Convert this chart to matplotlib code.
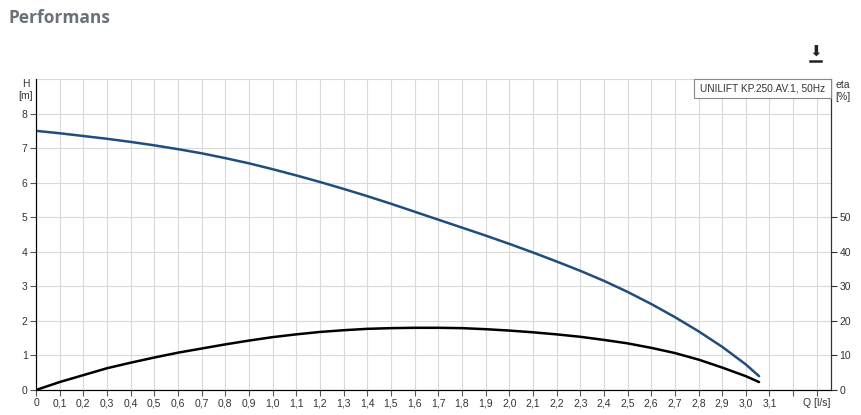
import matplotlib.pyplot as plt
from matplotlib.lines import Line2D
from matplotlib.patches import Rectangle

# Pump curve data
q_head = [0.0, 0.1, 0.2, 0.3, 0.4, 0.5, 0.6, 0.7, 0.8, 0.9, 1.0, 1.1, 1.2, 1.3, 1.4, 1.5,
          1.6, 1.7, 1.8, 1.9, 2.0, 2.1, 2.2, 2.3, 2.4, 2.5, 2.6, 2.7, 2.8, 2.9, 3.0, 3.056]
head = [7.50, 7.43, 7.35, 7.27, 7.18, 7.08, 6.97, 6.85, 6.71, 6.56, 6.39, 6.21, 6.02, 5.82, 5.61, 5.39,
        5.16, 4.93, 4.70, 4.47, 4.23, 3.98, 3.72, 3.45, 3.16, 2.84, 2.49, 2.11, 1.70, 1.25, 0.74, 0.40]

q_eta = q_head
eta = [0.0, 2.3, 4.3, 6.3, 7.9, 9.4, 10.8, 12.0, 13.2, 14.3, 15.3, 16.1, 16.8, 17.3, 17.7, 17.9,
       18.0, 18.0, 17.9, 17.6, 17.2, 16.7, 16.1, 15.4, 14.5, 13.5, 12.2, 10.7, 8.8, 6.5, 4.0, 2.3]

x_ticks = [i / 10 for i in range(34)]
x_labels = [f"{v:.1f}".replace(".", ",") if v < 3.15 else "" for v in x_ticks]
x_labels[0] = "0"
x_labels[33] = "Q [l/s]"
h_ticks = list(range(0, 9))
eta_ticks = [0, 10, 20, 30, 40, 50]
legend_label = "UNILIFT KP.250.AV.1, 50Hz"

plt.rcParams['font.family'] = ['Liberation Sans', 'DejaVu Sans']

fig = plt.figure(figsize=(8.61, 4.15), dpi=100)
ax = fig.add_axes([36 / 861, 1 - 390 / 415, 795 / 861, 311 / 415])

ax.set_xlim(0, 3.36)
ax.set_ylim(0, 9)
ax.set_xticks(x_ticks)
ax.set_xticklabels(x_labels, fontsize=7.5, color="#333333")
ax.set_yticks(h_ticks)
ax.set_yticklabels([str(t) for t in h_ticks], fontsize=7.5, color="#333333")
ax.grid(True, color="#d9d9d9", linewidth=0.8)
ax.tick_params(length=4, width=0.8, color="#555555", pad=2)
for s in ["left", "bottom"]:
    ax.spines[s].set_color("#444444")
ax.spines["top"].set_color("#d9d9d9")
ax.spines["right"].set_color("#333333")

ax.plot(q_head, head, color="#1f4e7d", linewidth=1.8, solid_capstyle="round")

ax2 = ax.twinx()
ax2.set_ylim(0, 90)
ax2.set_yticks(eta_ticks)
ax2.set_yticklabels([str(t) for t in eta_ticks], fontsize=7.5, color="#333333")
ax2.tick_params(length=4, width=0.8, color="#333333", pad=2)
ax2.spines["right"].set_color("#333333")
ax2.spines["top"].set_visible(False)
ax2.plot(q_eta, eta, color="#000000", linewidth=1.8, solid_capstyle="round")

# axis unit labels
fig.text(26 / 861, 1 - 84 / 415, "H", fontsize=7.5, ha="center", va="center", color="#333333")
fig.text(26 / 861, 1 - 96 / 415, "[m]", fontsize=7.5, ha="center", va="center", color="#333333")
fig.text(843 / 861, 1 - 85 / 415, "eta", fontsize=7.5, ha="center", va="center", color="#333333")
fig.text(843 / 861, 1 - 97 / 415, "[%]", fontsize=7.5, ha="center", va="center", color="#333333")

# legend box
fig.add_artist(Rectangle((694 / 861, 1 - 98 / 415), 137 / 861, 19 / 415, transform=fig.transFigure,
                         facecolor="white", edgecolor="#888888", linewidth=0.8, zorder=5))
fig.text(762.5 / 861, 1 - 88.5 / 415, legend_label, fontsize=7.3, ha="center", va="center",
         color="#333333", zorder=6)

# title
fig.text(8 / 861, 1 - 18 / 415, "Performans", fontsize=12.5, fontweight="bold",
         family="Open Sans", color="#6b7178", ha="left", va="center")

# download icon
fig.add_artist(Line2D([810 / 861, 821 / 861], [1 - 61 / 415, 1 - 61 / 415], color="#222222", lw=1.8))
fig.text(815.5 / 861, 1 - 52 / 415, "\u2B07", fontsize=11, ha="center", va="center",
         family="DejaVu Sans", color="#222222")

fig.savefig("out.png", dpi=100)
